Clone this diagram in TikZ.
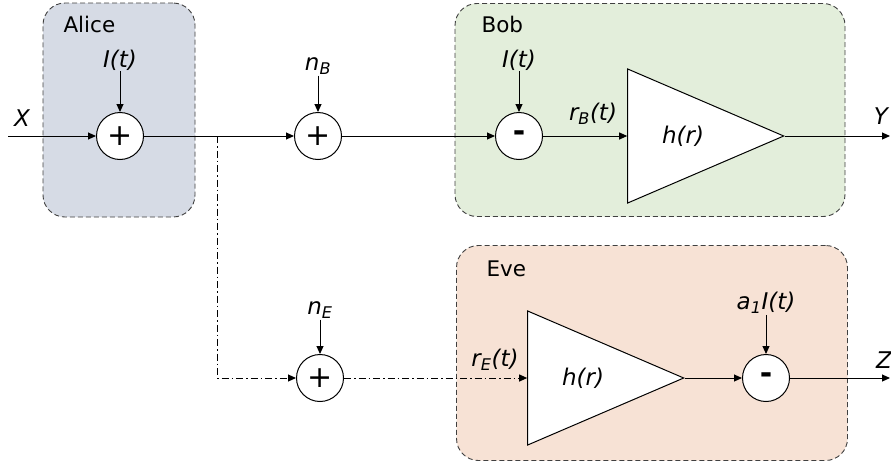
\documentclass[tikz,border=0pt]{standalone}
\usepackage{fontspec}
\setmainfont{DejaVu Sans}
\usepackage{xcolor}
\usetikzlibrary{shapes.geometric, arrows.meta, positioning}

\definecolor{alicefill}{HTML}{D6DBE5}
\definecolor{bobfill}{HTML}{E3EEDB}
\definecolor{evefill}{HTML}{F7E2D5}

\begin{document}
\begin{tikzpicture}[
    x=1pt, y=-1pt,
    font=\fontsize{21.5}{26}\selectfont,
    partybox/.style={draw=black!75, dash pattern=on 5pt off 3pt, rounded corners=22pt, line width=0.9pt},
    sumnode/.style={circle, draw=black, fill=white, line width=1pt, minimum size=47pt, inner sep=0pt, font=\fontsize{30}{30}\selectfont},
    ampnode/.style={isosceles triangle, isosceles triangle stretches, draw=black, fill=white, line width=1pt, minimum width=134pt, minimum height=156pt, inner sep=0pt, anchor=apex},
    sig/.style={font=\fontsize{23}{27}\selectfont\itshape, inner sep=1pt},
    arrow/.style={line width=1pt, -{Triangle[length=8pt,width=7pt]}},
    dashdot/.style={dash pattern=on 7pt off 3pt on 1.5pt off 3pt}
]
\useasboundingbox (0,0) rectangle (891,463);

% parties
\node[partybox, fill=alicefill, minimum width=152pt, minimum height=214pt] (alice) at (119,110) {};
\node[partybox, fill=bobfill, minimum width=390pt, minimum height=213pt] (bob) at (650,110) {};
\node[partybox, fill=evefill, minimum width=391pt, minimum height=215pt] (eve) at (652,353) {};
\node[anchor=west] (alicename) at (60,24) {Alice};
\node[anchor=west] (bobname) at (478,24) {Bob};
\node[anchor=west] (evename) at (483,269) {Eve};

% blocks
\node[sumnode] (sumA) at (120,136) {+};
\node[sumnode] (sumB) at (318,136) {+};
\node[sumnode] (subB) at (519,136) {\textbf{-}};
\node[ampnode] (ampB) at (785,136) {};
\node[sumnode] (sumE) at (320,378) {+};
\node[ampnode] (ampE) at (685,378) {};
\node[sumnode] (subE) at (766,378) {\textbf{-}};
\node[sig] (hB) at (683,136) {h(r)};
\node[sig] (hE) at (583,378) {h(r)};

% signal labels
\node[sig] (xlbl) at (22,118) {X};
\node[sig] (ylbl) at (881,116) {Y};
\node[sig] (zlbl) at (884,360) {Z};
\node[sig] (itA) at (120,60) {I(t)};
\node[sig] (itB) at (519,60) {I(t)};
\node[sig] (nB) at (318,66) {n\textsubscript{B}};
\node[sig] (nE) at (320,310) {n\textsubscript{E}};
\node[sig] (aiE) at (766,303) {a\textsubscript{1}I(t)};
\node[sig] (rB) at (593,114) {r\textsubscript{B}(t)};
\node[sig] (rE) at (495,360) {r\textsubscript{E}(t)};

\coordinate (xin) at (8,136);
\coordinate (split) at (217,136);
\coordinate (yout) at (890,136);
\coordinate (zout) at (890,378);

% Bob's path
\draw[arrow] (xin) -- (sumA);
\draw[arrow] (itA) -- (sumA);
\draw[arrow] (sumA) -- (sumB);
\draw[arrow] (nB) -- (sumB);
\draw[arrow] (sumB) -- (subB);
\draw[arrow] (itB) -- (subB);
\draw[arrow] (subB) -- (ampB.west);
\draw[arrow] (ampB.apex) -- (yout);

% Eve's path
\draw[arrow, dashdot] (split) |- (sumE);
\draw[arrow] (nE) -- (sumE);
\draw[arrow, dashdot] (sumE) -- (ampE.west);
\draw[arrow] (ampE.apex) -- (subE);
\draw[arrow] (aiE) -- (subE);
\draw[arrow] (subE) -- (zout);
\end{tikzpicture}
\end{document}
